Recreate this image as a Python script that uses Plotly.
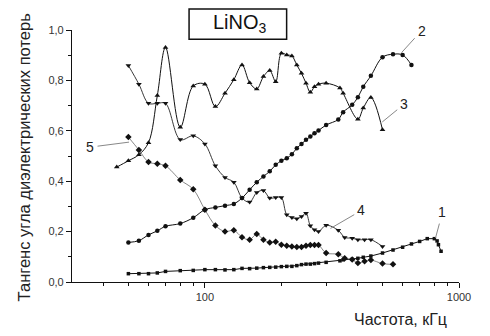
import math
import plotly.graph_objects as go

# ---- data (frequency in kHz, loss tangent) ----
f1 = [50, 55, 60, 65, 70, 80, 90, 100, 110, 120, 130, 140, 150, 160, 170, 180, 190, 200, 210, 220,
      230, 240, 250, 260, 270, 280, 300, 340, 350, 380, 400, 420, 450, 500, 550, 600, 650, 700, 750,
      800, 820, 830, 850]
tan1 = [0.033, 0.033, 0.033, 0.036, 0.042, 0.045, 0.046, 0.049, 0.049, 0.048, 0.049, 0.054, 0.053,
        0.055, 0.057, 0.058, 0.059, 0.061, 0.062, 0.062, 0.065, 0.069, 0.071, 0.071, 0.073, 0.075,
        0.078, 0.084, 0.088, 0.090, 0.094, 0.098, 0.103, 0.115, 0.127, 0.138, 0.151, 0.161, 0.172,
        0.172, 0.163, 0.148, 0.122]

f2 = [50, 55, 60, 65, 70, 80, 90, 100, 110, 120, 130, 140, 150, 160, 170, 180, 190, 200, 210, 220,
      230, 240, 250, 260, 270, 280, 300, 335, 350, 380, 400, 420, 450, 500, 550, 600, 650]
tan2 = [0.157, 0.164, 0.187, 0.203, 0.221, 0.232, 0.255, 0.287, 0.296, 0.303, 0.31, 0.333, 0.366,
        0.396, 0.419, 0.439, 0.465, 0.481, 0.491, 0.507, 0.531, 0.548, 0.564, 0.577, 0.59, 0.601,
        0.623, 0.645, 0.674, 0.703, 0.733, 0.775, 0.818, 0.892, 0.904, 0.901, 0.861]

f3 = [45, 50, 55, 60, 65, 70, 80, 90, 100, 110, 120, 130, 140, 150, 160, 170, 180, 190, 200, 210,
      220, 230, 240, 250, 260, 270, 280, 300, 340, 350, 400, 420, 450, 500]
tan3 = [0.456, 0.481, 0.505, 0.553, 0.74, 0.931, 0.614, 0.778, 0.785, 0.696, 0.749, 0.803, 0.861,
        0.791, 0.766, 0.815, 0.839, 0.795, 0.908, 0.901, 0.897, 0.861, 0.828, 0.789, 0.753, 0.775,
        0.785, 0.789, 0.770, 0.749, 0.646, 0.69, 0.732, 0.604]

f4 = [50, 55, 60, 65, 70, 80, 90, 100, 110, 120, 130, 140, 150, 160, 170, 180, 190, 200, 210, 220,
      230, 240, 250, 260, 270, 280, 300, 335, 355, 380, 400, 425, 450, 500]
tan4 = [0.859, 0.785, 0.709, 0.709, 0.709, 0.565, 0.58, 0.548, 0.461, 0.415, 0.396, 0.333, 0.317,
        0.355, 0.363, 0.333, 0.335, 0.335, 0.267, 0.256, 0.251, 0.26, 0.273, 0.223, 0.207, 0.2,
        0.225, 0.205, 0.177, 0.174, 0.168, 0.168, 0.168, 0.141]

f5 = [50, 55, 60, 65, 70, 80, 90, 100, 110, 120, 130, 140, 150, 160, 170, 180, 190, 200, 210, 220,
      230, 240, 250, 260, 270, 280, 300, 335, 355, 380, 400, 425, 450, 500, 550]
tan5 = [0.575, 0.524, 0.476, 0.469, 0.461, 0.405, 0.368, 0.287, 0.224, 0.2, 0.205, 0.178, 0.168,
        0.19, 0.168, 0.157, 0.16, 0.148, 0.144, 0.141, 0.139, 0.139, 0.144, 0.147, 0.147, 0.147,
        0.115, 0.11, 0.094, 0.089, 0.075, 0.082, 0.087, 0.073, 0.07]

y_tickvals = [0.0, 0.2, 0.4, 0.6, 0.8, 1.0]
y_ticktext = ["0,0", "0,2", "0,4", "0,6", "0,8", "1,0"]
x_tickvals = [100, 1000]
x_ticktext = ["100", "1000"]
x_minor = [40, 50, 60, 70, 80, 90, 200, 300, 400, 500, 600, 700, 800, 900]
y_minor = [0.1, 0.3, 0.5, 0.7, 0.9]

curve_labels = ["1", "2", "3", "4", "5"]
x_title = "Частота, кГц"
y_title = "Тангенс угла диэлектрических потерь"
chart_title = "LiNO<sub>3</sub>"

FONT = "Arial, 'Liberation Sans', sans-serif"

series = [
    (f1, tan1, "square", 3.5, "#111", 1.0, "linear"),
    (f2, tan2, "circle", 4.5, "#111", 1.0, "spline"),
    (f3, tan3, "triangle-up", 5, "#111", 1.0, "spline"),
    (f4, tan4, "triangle-down", 5, "#222", 0.9, "spline"),
    (f5, tan5, "diamond", 5, "#555", 0.7, "spline"),
]

fig = go.Figure()
for fx, ty, sym, ms, col, lw, shape in series:
    fig.add_trace(go.Scatter(
        x=fx, y=ty, mode="lines+markers",
        line=dict(color=col, width=lw, shape=shape, smoothing=1.0),
        marker=dict(symbol=sym, size=ms, color="#111", line=dict(width=0)),
        showlegend=False,
    ))

# curve number labels with leader lines (tip in data coords, text offset in px)
leaders = [
    (808, 0.174, 7, -26),     # 1
    (594, 0.91, 20, -22),     # 2
    (499, 0.635, 22, -18),    # 3
    (312, 0.2125, 31, -18),   # 4
    (50.3, 0.555, -39, 5),    # 5
]
for lab, (lx, ly, ax, ay) in zip(curve_labels, leaders):
    fig.add_annotation(
        x=math.log10(lx), y=ly, xref="x", yref="y",
        text=lab, showarrow=True, arrowhead=0, arrowwidth=1, arrowcolor="#888",
        ax=ax, ay=ay, standoff=0, startstandoff=2,
        font=dict(family=FONT, size=14, color="#222"),
    )

# title box
fig.add_shape(type="rect", xref="paper", yref="paper",
              x0=0.3025, x1=0.5546, y0=0.963, y1=1.083,
              line=dict(color="#111", width=1.5), fillcolor="white")
fig.add_annotation(
    x=0.4336, y=1.024, xref="paper", yref="paper", showarrow=False,
    text=chart_title, xanchor="center", yanchor="middle",
    font=dict(family=FONT, size=20, color="#111"),
)

# axis titles
fig.add_annotation(
    x=0.85, y=-0.15, xref="paper", yref="paper", showarrow=False,
    text=x_title, xanchor="center", yanchor="middle",
    font=dict(family=FONT, size=16, color="#222"),
)
fig.add_annotation(
    x=-0.125, y=0.493, xref="paper", yref="paper", showarrow=False,
    text=y_title, textangle=-90, xanchor="center", yanchor="middle",
    font=dict(family=FONT, size=16.5, color="#222"),
)

# the page body has an 8px default margin, so the figure is sized to fit inside the window
fig.update_layout(
    width=474, height=320,
    margin=dict(l=64, r=11, t=22, b=46),
    paper_bgcolor="white", plot_bgcolor="white",
    font=dict(family=FONT, size=11, color="#333"),
    xaxis=dict(
        type="log", range=[math.log10(30), 3],
        showline=True, linecolor="#111", linewidth=1.2, mirror=False,
        showgrid=False, zeroline=False,
        tickmode="array", tickvals=x_tickvals, ticktext=x_ticktext,
        ticks="outside", ticklen=5, tickcolor="#111", tickwidth=1,
        ticklabeloverflow="allow",
        tickfont=dict(family=FONT, size=11, color="#333"),
        minor=dict(tickmode="array", tickvals=x_minor, ticks="outside",
                   ticklen=3, tickcolor="#111", tickwidth=1, showgrid=False),
    ),
    yaxis=dict(
        range=[0, 1.0],
        showline=True, linecolor="#111", linewidth=1.2,
        showgrid=False, zeroline=False,
        tickmode="array", tickvals=y_tickvals, ticktext=y_ticktext,
        ticks="outside", ticklen=5, tickcolor="#111", tickwidth=1,
        tickfont=dict(family=FONT, size=11, color="#333"),
        minor=dict(tickmode="array", tickvals=y_minor, ticks="outside",
                   ticklen=3, tickcolor="#111", tickwidth=1, showgrid=False),
    ),
)

fig.write_html("out.html")
